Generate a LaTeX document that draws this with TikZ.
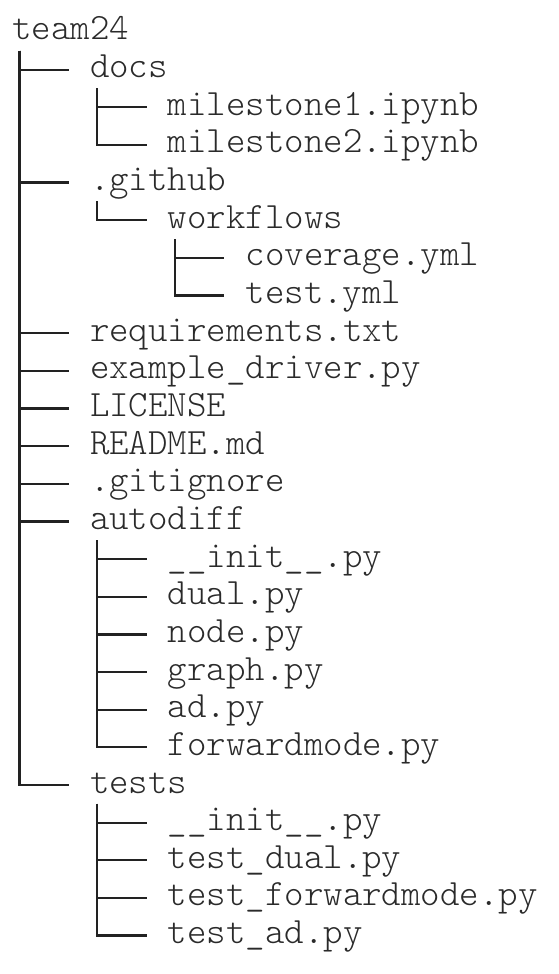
\documentclass[tikz,border=0pt]{standalone}
\usepackage{fontspec}
\setmonofont{Latin Modern Mono Light}
\definecolor{txt}{HTML}{2A2A2A}
\definecolor{ln}{HTML}{222222}
\tikzset{
  fn/.style={anchor=west, inner sep=0pt, text height=15pt, text depth=3pt,
    font=\fontsize{27.8pt}{32pt}\selectfont\ttfamily, text=txt},
  tree/.style={draw=ln, line width=1.7pt},
  vtop/.style={xshift=5.6pt, yshift=-14.1pt}
}
\begin{document}
\begin{tikzpicture}[x=0.75pt,y=-0.75pt]
\useasboundingbox (0,0) rectangle (558,974);
\node[fn] (r0)  at (12,32)       {team24};
\node[fn] (r1)  at (89.8,69.65)  {docs};
\node[fn] (r2)  at (167.6,107.3) {milestone1.ipynb};
\node[fn] (r3)  at (167.6,144.95){milestone2.ipynb};
\node[fn] (r4)  at (89.8,182.6)  {.github};
\node[fn] (r5)  at (167.6,220.25){workflows};
\node[fn] (r6)  at (245.4,257.9) {coverage.yml};
\node[fn] (r7)  at (245.4,295.55){test.yml};
\node[fn] (r8)  at (89.8,333.2)  {requirements.txt};
\node[fn] (r9)  at (89.8,370.85) {example\_driver.py};
\node[fn] (r10) at (89.8,408.5)  {LICENSE};
\node[fn] (r11) at (89.8,446.15) {README.md};
\node[fn] (r12) at (89.8,483.8)  {.gitignore};
\node[fn] (r13) at (89.8,521.45) {autodiff};
\node[fn] (r14) at (167.6,559.1) {\_\_init\_\_.py};
\node[fn] (r15) at (167.6,596.75){dual.py};
\node[fn] (r16) at (167.6,634.4) {node.py};
\node[fn] (r17) at (167.6,672.05){graph.py};
\node[fn] (r18) at (167.6,709.7) {ad.py};
\node[fn] (r19) at (167.6,747.35){forwardmode.py};
\node[fn] (r20) at (89.8,785)    {tests};
\node[fn] (r21) at (167.6,822.65){\_\_init\_\_.py};
\node[fn] (r22) at (167.6,860.3) {test\_dual.py};
\node[fn] (r23) at (167.6,897.95){test\_forwardmode.py};
\node[fn] (r24) at (167.6,935.6) {test\_ad.py};
\coordinate (v0)  at ([vtop]r0.west);
\coordinate (v1)  at ([vtop]r1.west);
\coordinate (v4)  at ([vtop]r4.west);
\coordinate (v5)  at ([vtop]r5.west);
\coordinate (v13) at ([vtop]r13.west);
\coordinate (v20) at ([vtop]r20.west);
\foreach \c in {1,4,8,9,10,11,12,13,20}
  \draw[tree] (v0) |- ([xshift=-15.75pt]r\c.west);
\foreach \c in {2,3}
  \draw[tree] (v1) |- ([xshift=-15.75pt]r\c.west);
\draw[tree] (v4) |- ([xshift=-15.75pt]r5.west);
\foreach \c in {6,7}
  \draw[tree] (v5) |- ([xshift=-15.75pt]r\c.west);
\foreach \c in {14,15,16,17,18,19}
  \draw[tree] (v13) |- ([xshift=-15.75pt]r\c.west);
\foreach \c in {21,22,23,24}
  \draw[tree] (v20) |- ([xshift=-15.75pt]r\c.west);
\end{tikzpicture}
\end{document}
